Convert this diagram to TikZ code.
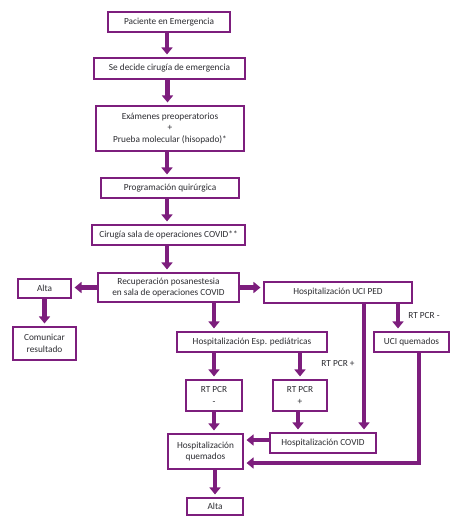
\documentclass[tikz,border=0pt]{standalone}
\usepackage{fontspec}
\setmainfont{Carlito}
\usepackage{xcolor}
\usetikzlibrary{arrows.meta,positioning}
\definecolor{morado}{RGB}{125,30,125}
\definecolor{texto}{RGB}{45,45,50}

\begin{document}
\begin{tikzpicture}[x=1pt, y=-1pt,
  font=\fontsize{9.3}{11.5}\selectfont, text=texto,
  caja/.style={draw=morado, line width=1.1pt, fill=white, align=center, inner sep=0pt},
  flecha/.style={draw=morado, line width=4.2pt, -{Triangle[length=7pt,width=11pt]}, shorten >=3pt}]
\useasboundingbox (0,0) rectangle (466,522);
% Main column
\node[caja, minimum width=122pt, minimum height=20pt] (pac) at (169,22) {Paciente en Emergencia};
\node[caja, minimum width=151pt, minimum height=21pt] (dec) at (169.5,68.5) {Se decide cirugía de emergencia};
\node[caja, minimum width=148pt, minimum height=45pt] (exa) at (170,128.5)
  {Exámenes preoperatorios\\+\\Prueba molecular (hisopado)*};
\node[caja, minimum width=138pt, minimum height=20pt] (prog) at (170,188) {Programación quirúrgica};
\node[caja, minimum width=153pt, minimum height=20pt] (cir) at (168.5,235) {Cirugía sala de operaciones COVID**};
\node[caja, minimum width=141pt, minimum height=29pt] (rec) at (168.5,287.5)
  {Recuperación posanestesia\\en sala de operaciones COVID};
% Left branch
\node[caja, minimum width=53pt, minimum height=19pt] (alta1) at (44.5,288.5) {Alta};
\node[caja, minimum width=63pt, minimum height=33pt] (com) at (44.5,343.5) {Comunicar\\resultado};
% Right branch
\node[caja, minimum width=148pt, minimum height=21pt] (uci) at (338,292.5) {Hospitalización UCI PED};
\node[caja, minimum width=75pt, minimum height=20pt] (ucq) at (411.5,342) {UCI quemados};
\node (lblneg) at (424,316) {RT PCR -};
% Lower part
\node[caja, minimum width=150pt, minimum height=20pt] (esp) at (252,342) {Hospitalización Esp. pediátricas};
\node[caja, minimum width=56pt, minimum height=31pt] (rtn) at (214,395.5) {RT PCR\\-};
\node[caja, minimum width=54pt, minimum height=31pt] (rtp) at (300,395.5) {RT PCR\\+};
\node (lblpos) at (338,364) {RT PCR +};
\node[caja, minimum width=75pt, minimum height=35pt] (hq) at (205.5,451.5) {Hospitalización\\quemados};
\node[caja, minimum width=106pt, minimum height=20pt] (hcov) at (323,443) {Hospitalización COVID};
\node[caja, minimum width=56pt, minimum height=17pt] (alta2) at (215,506.5) {Alta};
% Arrows
\draw[flecha] ([xshift=-2pt]pac.south) -- ([xshift=-2pt]pac.south |- dec.north);
\draw[flecha] ([xshift=-2pt]dec.south) -- ([xshift=-2pt]dec.south |- exa.north);
\draw[flecha] ([xshift=-3pt]exa.south) -- ([xshift=-3pt]exa.south |- prog.north);
\draw[flecha] ([xshift=-3pt]prog.south) -- ([xshift=-3pt]prog.south |- cir.north);
\draw[flecha] ([xshift=-1.5pt]cir.south) -- ([xshift=-1.5pt]cir.south |- rec.north);
\draw[flecha] (rec.west) -- (alta1.east |- rec.west);
\draw[flecha] (rec.east) -- (uci.west |- rec.east);
\draw[flecha] (alta1) -- (com);
\draw[flecha] (rec.south -| rtn) -- (esp.north -| rtn);
\draw[flecha] ([xshift=-13.5pt]ucq.north |- uci.south) -- ([xshift=-13.5pt]ucq.north);
\draw[flecha] ([xshift=26pt]uci.south) -- ([xshift=26pt]uci.south |- hcov.north);
\draw[flecha] (esp.south -| rtn) -- (rtn);
\draw[flecha] (esp.south -| rtp) -- (rtp);
\draw[flecha] (rtn) -- (hq.north -| rtn);
\draw[flecha] ([xshift=-2pt]rtp.south) -- ([xshift=-2pt]rtp.south |- hcov.north);
\draw[flecha] ([yshift=3pt]hcov.west) -- ([yshift=3pt]hcov.west -| hq.east);
\draw[flecha] ([xshift=7.5pt]ucq.south) |- ([yshift=-11.5pt]hq.east);
\draw[flecha] (hq.south -| alta2) -- (alta2);
\end{tikzpicture}
\end{document}
